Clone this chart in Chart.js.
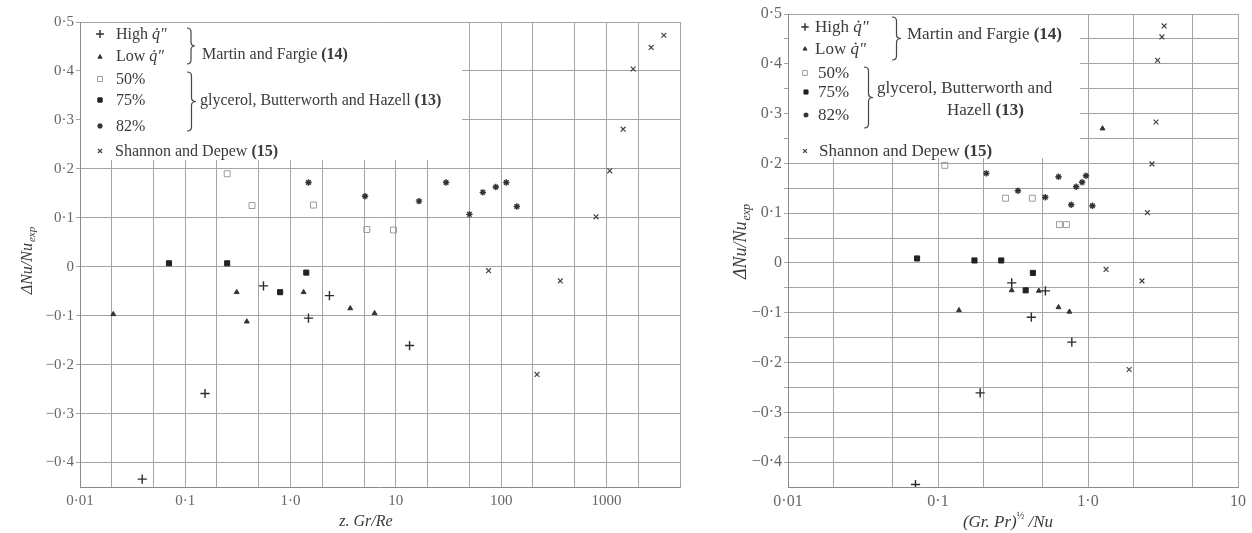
<!DOCTYPE html>
<html><head><meta charset="utf-8">
<script src="https://cdn.jsdelivr.net/npm/chart.js@4.4.1/dist/chart.umd.min.js"></script>
<style>
html,body{margin:0;padding:0;background:#fff;}
body{width:1252px;height:533px;position:relative;overflow:hidden;}
canvas{position:absolute;top:0;}
#cL{left:0;} #cR{left:700px;}
</style></head><body>
<canvas id="cL" width="700" height="533"></canvas>
<canvas id="cR" width="552" height="533"></canvas>
<script>
// ---------------- DATA : left panel, x = z.Gr/Re ----------------
const leftHighX = [0.039, 0.154, 0.553, 1.48, 2.34, 13.5];
const leftHighY = [-0.434, -0.259, -0.039, -0.105, -0.059, -0.161];
const leftLowX  = [0.0207, 0.308, 0.384, 1.33, 3.69, 6.28];
const leftLowY  = [-0.097, -0.052, -0.112, -0.052, -0.085, -0.095];
const left50X   = [0.25, 0.43, 1.65, 5.3, 9.5];
const left50Y   = [0.19, 0.125, 0.126, 0.076, 0.075];
const left75X   = [0.07, 0.25, 0.796, 1.41];
const left75Y   = [0.007, 0.007, -0.052, -0.012];
const left82X   = [1.48, 5.1, 16.6, 30, 50, 67, 89, 112, 141];
const left82Y   = [0.172, 0.144, 0.134, 0.172, 0.107, 0.152, 0.163, 0.172, 0.123];
const leftShX   = [76, 219, 365, 798, 1076, 1442, 1795, 2660, 3510];
const leftShY   = [-0.008, -0.22, -0.029, 0.102, 0.196, 0.281, 0.404, 0.448, 0.473];

// ---------------- DATA : right panel, x = (Gr.Pr)^1/2 / Nu ----------------
const rightHighX = [0.0708, 0.191, 0.31, 0.419, 0.52, 0.78];
const rightHighY = [-0.445, -0.261, -0.04, -0.109, -0.056, -0.159];
const rightLowX  = [0.138, 0.31, 0.47, 0.636, 0.752, 1.25];
const rightLowY  = [-0.095, -0.055, -0.056, -0.089, -0.098, 0.27];
const right50X   = [0.111, 0.282, 0.425, 0.645, 0.718];
const right50Y   = [0.196, 0.13, 0.13, 0.077, 0.077];
const right75X   = [0.0725, 0.175, 0.264, 0.384, 0.429];
const right75Y   = [0.009, 0.005, 0.005, -0.055, -0.02];
const right82X   = [0.21, 0.341, 0.519, 0.636, 0.773, 0.834, 0.914, 0.97, 1.07];
const right82Y   = [0.18, 0.145, 0.132, 0.173, 0.117, 0.153, 0.162, 0.175, 0.115];
const rightShX   = [1.32, 1.88, 2.29, 2.49, 2.67, 2.84, 2.91, 3.11, 3.22];
const rightShY   = [-0.013, -0.214, -0.036, 0.101, 0.199, 0.283, 0.407, 0.454, 0.476];

// ---------------- TICKS ----------------
const leftXGrid = [0.01,0.02,0.05,0.1,0.2,0.5,1,2,5,10,20,50,100,200,500,1000,2000,5000];
const leftXTickValues = [0.01, 0.1, 1, 10, 100, 1000];
const leftXTickLabels = ['0·01', '0·1', '1·0', '10', '100', '1000'];
const rightXGrid = [0.01,0.02,0.05,0.1,0.2,0.5,1,2,5,10];
const rightXTickValues = [0.01, 0.1, 1, 10];
const rightXTickLabels = ['0·01', '0·1', '1·0', '10'];
const yTickValues = [0.5, 0.4, 0.3, 0.2, 0.1, 0, -0.1, -0.2, -0.3, -0.4];
const yTickLabels = ['0·5', '0·4', '0·3', '0·2', '0·1', '0', '−0·1', '−0·2', '−0·3', '−0·4'];
const leftYGrid = [0.5, 0.4, 0.3, 0.2, 0.1, 0, -0.1, -0.2, -0.3, -0.4];
const rightYGrid = [0.5, 0.45, 0.4, 0.35, 0.3, 0.25, 0.2, 0.15, 0.1, 0.05, 0, -0.05, -0.1, -0.15, -0.2, -0.25, -0.3, -0.35, -0.4];

const seriesNames = ['High q̇″', 'Low q̇″', '50%', '75%', '82%', 'Shannon and Depew (15)'];

const FONT = '"Liberation Serif", "Times New Roman", serif';
const INK = '#3a3a3a';
const STY = {
  high: {pointStyle:'cross',    radius:4.6, borderWidth:1.4, color:'#2c2c2c', fill:'#2c2c2c'},
  low:  {pointStyle:'triangle', radius:2.8, borderWidth:1,   color:'#333',    fill:'#333'},
  g50:  {pointStyle:'rect',     radius:4.2, borderWidth:1,   color:'#9c9c9c', fill:'rgba(255,255,255,0)'},
  g75:  {pointStyle:'rect',     radius:3.6, borderWidth:1,   color:'#222',    fill:'#222'},
  g82:  {pointStyle:'star',     radius:3.2, borderWidth:1.4, color:'#333',    fill:'#333'},
  sh:   {pointStyle:'crossRot', radius:3.4, borderWidth:1.2, color:'#444',    fill:'#444'}
};

function pts(xs, ys){ return xs.map((x,i)=>({x:x, y:ys[i]})); }
function ds(label, xs, ys, s){
  return {label:label, data:pts(xs,ys), showLine:false,
    pointStyle:s.pointStyle, pointRadius:s.radius, pointHoverRadius:s.radius,
    pointBorderWidth:s.borderWidth, pointBorderColor:s.color, pointBackgroundColor:s.fill};
}
function lookup(vals, labels){
  return function(v){ const i = vals.findIndex(t=>Math.abs(t-v)<1e-9*Math.max(1,Math.abs(t))); return i>=0?labels[i]:''; };
}
function drawMarker(ctx, s, x, y, scale){
  ctx.save();
  ctx.strokeStyle = s.color; ctx.fillStyle = s.fill; ctx.lineWidth = s.borderWidth;
  Chart.helpers.drawPoint(ctx, {pointStyle:s.pointStyle, radius:s.radius*(scale||1), borderWidth:s.borderWidth, rotation:0}, x, y);
  ctx.restore();
}
function drawRuns(ctx, runs, x, y, fs){
  let cx = x;
  for (const [t, st] of runs){
    if (st === 'q'){
      ctx.font = `italic ${fs}px ${FONT}`;
      const w = ctx.measureText('q').width;
      ctx.fillText('q', cx, y);
      ctx.beginPath(); ctx.arc(cx + w*0.62, y - fs*0.62, fs*0.06, 0, Math.PI*2); ctx.fill();
      cx += w + 1;
    } else {
      ctx.font = (st==='b' ? 'bold ' : st==='i' ? 'italic ' : '') + `${fs}px ${FONT}`;
      ctx.fillText(t, cx, y);
      cx += ctx.measureText(t).width;
    }
  }
}
function drawBrace(ctx, x, y1, y2, w){
  const ym = (y1+y2)/2, r = 4, xm = x + w*0.5;
  ctx.save(); ctx.strokeStyle = '#444'; ctx.lineWidth = 1.2;
  ctx.beginPath();
  ctx.moveTo(x, y1);
  ctx.quadraticCurveTo(xm, y1, xm, y1+r);
  ctx.lineTo(xm, ym-r);
  ctx.quadraticCurveTo(xm, ym, x+w, ym);
  ctx.quadraticCurveTo(xm, ym, xm, ym+r);
  ctx.lineTo(xm, y2-r);
  ctx.quadraticCurveTo(xm, y2, x, y2);
  ctx.stroke(); ctx.restore();
}
function drawYTitle(ctx, cx, cy, fs){
  ctx.save(); ctx.translate(cx, cy); ctx.rotate(-Math.PI/2);
  ctx.fillStyle = INK; ctx.textBaseline = 'alphabetic'; ctx.textAlign = 'left';
  const main = 'ΔNu/Nu', sub = 'exp';
  ctx.font = `italic ${fs}px ${FONT}`; const w1 = ctx.measureText(main).width;
  ctx.font = `italic ${Math.round(fs*0.68)}px ${FONT}`; const w2 = ctx.measureText(sub).width;
  const x0 = -(w1+w2)/2, base = fs*0.35;
  ctx.font = `italic ${fs}px ${FONT}`; ctx.fillText(main, x0, base);
  ctx.font = `italic ${Math.round(fs*0.68)}px ${FONT}`; ctx.fillText(sub, x0+w1+1, base+fs*0.22);
  ctx.restore();
}

function makePanel(canvasId, cfg){
  const panelPlugin = {
    id: 'panelDecor',
    beforeDatasetsDraw(chart){
      const ctx = chart.ctx, b = cfg.box;
      ctx.save(); ctx.fillStyle = '#fff';
      ctx.fillRect(b[0], b[1], b[2]-b[0], b[3]-b[1]);
      ctx.restore();
    },
    afterDraw(chart){
      const ctx = chart.ctx;
      ctx.save();
      ctx.textBaseline = 'alphabetic'; ctx.textAlign = 'left'; ctx.fillStyle = INK;
      for (const m of cfg.markers) drawMarker(ctx, STY[m[0]], m[1], m[2], cfg.markerScale);
      ctx.fillStyle = INK;
      for (const t of cfg.texts) drawRuns(ctx, t.runs, t.x, t.y, cfg.fs);
      for (const br of cfg.braces) drawBrace(ctx, br[0], br[1], br[2], br[3]);
      const xt = cfg.xTitle;
      ctx.fillStyle = INK;
      let w = 0;
      for (const [t, st] of xt.runs){ ctx.font = (st==='sup' ? `${Math.round(xt.fs*0.6)}px ` : `italic ${xt.fs}px `) + FONT; w += ctx.measureText(t).width; }
      let cx = xt.cx - w/2;
      for (const [t, st] of xt.runs){
        ctx.font = (st==='sup' ? `${Math.round(xt.fs*0.6)}px ` : `italic ${xt.fs}px `) + FONT;
        ctx.fillText(t, cx, st==='sup' ? xt.y - xt.fs*0.45 : xt.y);
        cx += ctx.measureText(t).width;
      }
      ctx.restore();
      drawYTitle(ctx, cfg.yTitle[0], cfg.yTitle[1], cfg.yTitle[2]);
    }
  };
  return new Chart(document.getElementById(canvasId), {
    type: 'scatter',
    data: { datasets: cfg.datasets },
    options: {
      responsive: false, animation: false, devicePixelRatio: 1,
      layout: { padding: { left: 0, right: cfg.padRight, top: cfg.padTop, bottom: 0 } },
      plugins: { legend: { display: false }, tooltip: { enabled: false } },
      scales: {
        x: {
          type: 'logarithmic', min: cfg.xMin, max: cfg.xMax,
          afterBuildTicks: s => { s.ticks = cfg.xGrid.map(v => ({ value: v })); },
          afterFit: s => { s.height = 46; },
          ticks: { autoSkip: false, maxRotation: 0, minRotation: 0, padding: 5,
            font: { family: FONT, size: cfg.tickFs }, color: '#666',
            callback: lookup(cfg.xTickValues, cfg.xTickLabels) },
          grid: { color: '#a4a4a4', lineWidth: 1, drawTicks: false },
          border: { display: true, color: '#8a8a8a', width: 1 }
        },
        y: {
          type: 'linear', min: -0.45, max: 0.5,
          afterBuildTicks: s => { s.ticks = cfg.yGrid.map(v => ({ value: v })); },
          afterFit: s => { s.width = cfg.yWidth; },
          ticks: { autoSkip: false, padding: 2,
            font: { family: FONT, size: cfg.tickFs }, color: '#666',
            callback: lookup(yTickValues, yTickLabels) },
          grid: { color: '#a4a4a4', lineWidth: 1, drawTicks: true, tickLength: 4 },
          border: { display: true, color: '#8a8a8a', width: 1 }
        }
      }
    },
    plugins: [panelPlugin]
  });
}

makePanel('cL', {
  datasets: [
    ds(seriesNames[0], leftHighX, leftHighY, STY.high),
    ds(seriesNames[1], leftLowX, leftLowY, STY.low),
    ds(seriesNames[2], left50X, left50Y, STY.g50),
    ds(seriesNames[3], left75X, left75Y, STY.g75),
    ds(seriesNames[4], left82X, left82Y, STY.g82),
    ds(seriesNames[5], leftShX, leftShY, STY.sh)
  ],
  xMin: 0.01, xMax: 5000, xGrid: leftXGrid, xTickValues: leftXTickValues, xTickLabels: leftXTickLabels,
  yGrid: leftYGrid, yWidth: 80, padRight: 20, padTop: 22, tickFs: 15,
  box: [81, 23, 462, 160],
  fs: 16, markerScale: 0.85,
  markers: [['high',100,34],['low',100,57],['g50',100,79],['g75',100,100],['g82',100,126],['sh',100,151]],
  texts: [
    {x:116, y:39,  runs:[['High ','n'],['q','q'],['″','n']]},
    {x:116, y:61,  runs:[['Low ','n'],['q','q'],['″','n']]},
    {x:202, y:59,  runs:[['Martin and Fargie ','n'],['(14)','b']]},
    {x:116, y:84,  runs:[['50%','n']]},
    {x:116, y:105, runs:[['75%','n']]},
    {x:116, y:131, runs:[['82%','n']]},
    {x:200, y:105, runs:[['glycerol, Butterworth and Hazell ','n'],['(13)','b']]},
    {x:115, y:156, runs:[['Shannon and Depew ','n'],['(15)','b']]}
  ],
  braces: [[187, 28, 64, 8], [187, 72, 131, 9]],
  xTitle: {cx: 366, y: 526, fs: 16, runs: [['z. Gr/Re','i']]},
  yTitle: [26, 261, 16]
});

makePanel('cR', {
  datasets: [
    ds(seriesNames[0], rightHighX, rightHighY, STY.high),
    ds(seriesNames[1], rightLowX, rightLowY, STY.low),
    ds(seriesNames[2], right50X, right50Y, STY.g50),
    ds(seriesNames[3], right75X, right75Y, STY.g75),
    ds(seriesNames[4], right82X, right82Y, STY.g82),
    ds(seriesNames[5], rightShX, rightShY, STY.sh)
  ],
  xMin: 0.01, xMax: 10, xGrid: rightXGrid, xTickValues: rightXTickValues, xTickLabels: rightXTickLabels,
  yGrid: rightYGrid, yWidth: 88, padRight: 14, padTop: 14, tickFs: 16,
  box: [89, 15, 380, 158],
  fs: 17, markerScale: 0.8,
  markers: [['high',105,27],['low',105,49],['g50',105,73],['g75',106,92],['g82',106,115],['sh',105,151]],
  texts: [
    {x:115, y:32,  runs:[['High ','n'],['q','q'],['″','n']]},
    {x:115, y:54,  runs:[['Low ','n'],['q','q'],['″','n']]},
    {x:207, y:39,  runs:[['Martin and Fargie ','n'],['(14)','b']]},
    {x:118, y:78,  runs:[['50%','n']]},
    {x:118, y:97,  runs:[['75%','n']]},
    {x:118, y:120, runs:[['82%','n']]},
    {x:177, y:93,  runs:[['glycerol, Butterworth and','n']]},
    {x:247, y:115, runs:[['Hazell ','n'],['(13)','b']]},
    {x:119, y:156, runs:[['Shannon and Depew ','n'],['(15)','b']]}
  ],
  braces: [[192, 17, 60, 9], [164, 67, 128, 9]],
  xTitle: {cx: 308, y: 527, fs: 17, runs: [['(Gr. Pr)','i'],['½','sup'],[' /Nu','i']]},
  yTitle: [40, 242, 18]
});
</script>
</body></html>
